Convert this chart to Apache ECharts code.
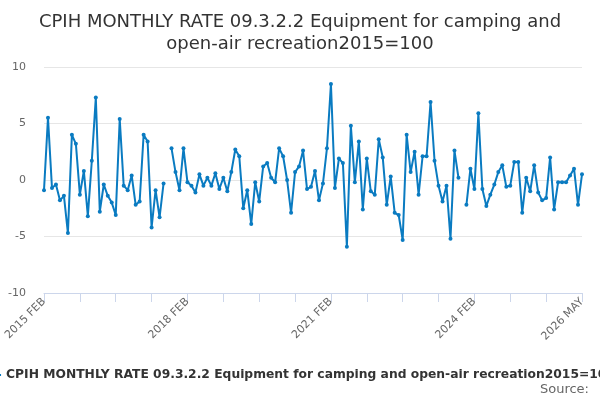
<!DOCTYPE html>
<html>
<head>
<meta charset="utf-8">
<script src="https://cdn.jsdelivr.net/npm/echarts@6/dist/echarts.min.js"></script>
<style>
  html, body { margin: 0; padding: 0; background: #fff; }
  #chart { width: 600px; height: 400px; }
</style>
</head>
<body>
<div id="chart"></div>
<script>
// monthly series, 2015 FEB .. 2026 MAY
var seriesName = 'CPIH MONTHLY RATE 09.3.2.2 Equipment for camping and open-air recreation2015=100';
var monthNames = ['JAN', 'FEB', 'MAR', 'APR', 'MAY', 'JUN', 'JUL', 'AUG', 'SEP', 'OCT', 'NOV', 'DEC'];
var startYear = 2015, startMonth = 1, monthCount = 136;

var rates = [
  -0.9, 5.5, -0.7, -0.4, -1.8, -1.4, -4.7, 4.0, 3.2, -1.3, 0.8, -3.2,
  1.7, 7.3, -2.8, -0.4, -1.4, -2.0, -3.1, 5.4, -0.5, -0.9, 0.4, -2.2,
  -1.9, 4.0, 3.4, -4.2, -0.9, -3.3, -0.3, null, 2.8, 0.7, -0.9, 2.8,
  -0.2, -0.5, -1.1, 0.5, -0.5, 0.2, -0.5, 0.6, -0.8, 0.2, -1.0, 0.7,
  2.7, 2.1, -2.5, -0.9, -3.9, -0.2, -1.9, 1.2, 1.5, 0.2, -0.2, 2.8,
  2.1, 0.0, -2.9, 0.7, 1.2, 2.6, -0.8, -0.6, 0.8, -1.8, -0.3, 2.8,
  8.5, -0.7, 1.9, 1.5, -5.9, 4.8, -0.2, 3.4, -2.6, 1.9, -1.0, -1.3,
  3.6, 2.0, -2.2, 0.3, -2.9, -3.1, -5.3, 4.0, 0.7, 2.5, -1.3, 2.1,
  2.1, 6.9, 1.7, -0.5, -1.9, -0.5, -5.2, 2.6, 0.2, null, -2.2, 1.0,
  -0.8, 5.9, -0.8, -2.3, -1.3, -0.4, 0.7, 1.3, -0.6, -0.5, 1.6, 1.6,
  -2.9, 0.2, -1.0, 1.3, -1.1, -1.8, -1.6, 2.0, -2.6, -0.2, -0.2, -0.2,
  0.4, 1.0, -2.2, 0.5
];

var yTicks = { min: -10, max: 10, step: 5 };

var categories = [];
for (var i = 0; i < monthCount; i++) {
    var m = startMonth + i;
    categories.push((startYear + Math.floor(m / 12)) + ' ' + monthNames[m % 12]);
}

var chart = echarts.init(document.getElementById('chart'));
chart.setOption({
    animation: false,
    title: {
        text: 'CPIH MONTHLY RATE 09.3.2.2 Equipment for camping and\nopen-air recreation2015=100',
        left: 'center',
        top: 6,
        textStyle: {
            fontFamily: 'DejaVu Sans',
            fontSize: 18,
            fontWeight: 'normal',
            color: '#333333',
            lineHeight: 22
        }
    },
    legend: {
        left: 'center',
        top: 364,
        icon: 'path://M0,9 L16,9 L16,11 L0,11 Z',
        itemWidth: 16,
        itemHeight: 20,
        itemGap: 4,
        textStyle: {
            fontFamily: 'DejaVu Sans',
            fontSize: 12.3,
            fontWeight: 'bold',
            color: '#333333'
        },
        data: [seriesName]
    },
    graphic: [{
        type: 'text',
        right: 11,
        top: 383,
        style: {
            text: 'Source:',
            font: '13px "DejaVu Sans"',
            fill: '#666666'
        }
    }],
    grid: {
        left: 44,
        right: 18,
        top: 67,
        bottom: 107
    },
    xAxis: {
        type: 'category',
        boundaryGap: false,
        data: categories,
        axisLine: { show: true, onZero: false, lineStyle: { color: '#ccd6eb' } },
        axisTick: {
            show: true,
            interval: 8,
            length: 9,
            lineStyle: { color: '#ccd6eb' }
        },
        axisLabel: {
            rotate: 45,
            margin: 7,
            fontFamily: 'DejaVu Sans',
            fontSize: 11,
            color: '#666666',
            interval: function (idx) {
                return idx % 36 === 0 || idx === monthCount - 1;
            }
        },
        splitLine: { show: false }
    },
    yAxis: {
        type: 'value',
        min: yTicks.min,
        max: yTicks.max,
        interval: yTicks.step,
        axisLine: { show: false },
        axisTick: { show: false },
        axisLabel: {
            margin: 18,
            fontFamily: 'DejaVu Sans',
            fontSize: 11,
            color: '#666666'
        },
        splitLine: { lineStyle: { color: '#e6e6e6' } }
    },
    series: [{
        name: seriesName,
        type: 'line',
        data: rates,
        connectNulls: false,
        symbol: 'circle',
        symbolSize: 4,
        showSymbol: true,
        showAllSymbol: true,
        lineStyle: { width: 2, color: '#0a7bc1' },
        itemStyle: { color: '#0a7bc1' }
    }]
});
</script>
</body>
</html>
